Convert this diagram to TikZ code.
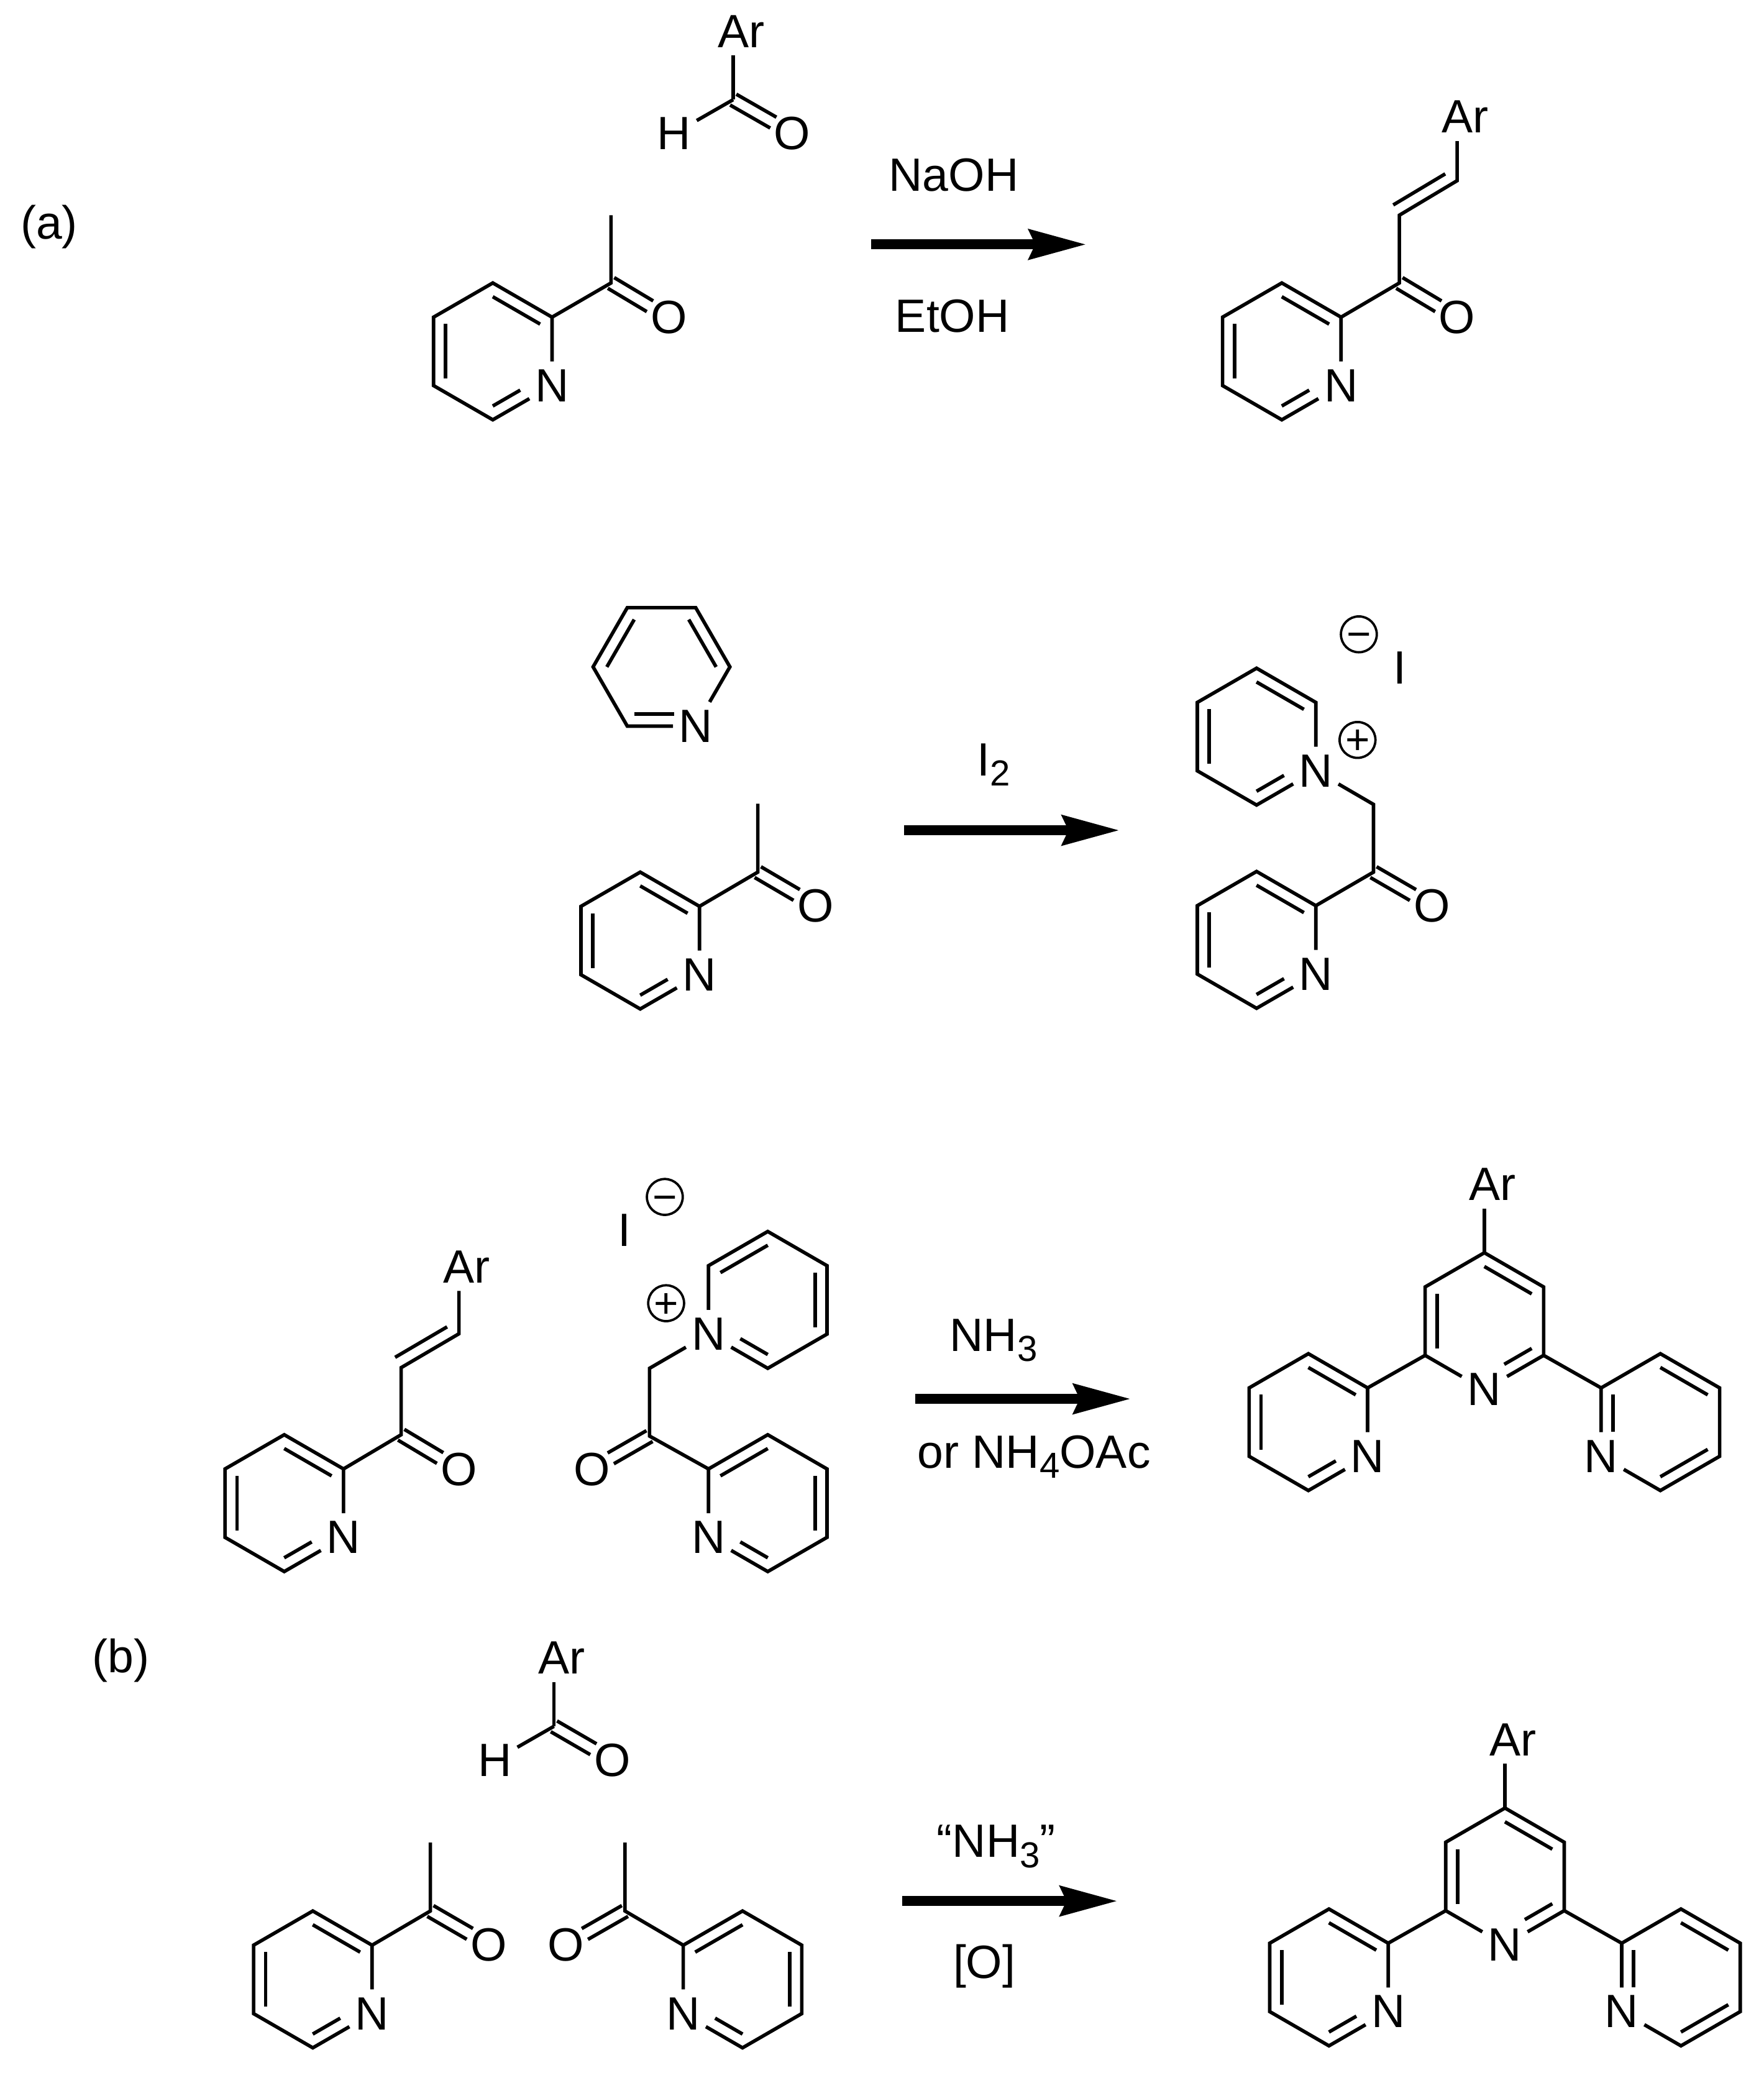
\documentclass[tikz,border=0pt]{standalone}
\usepackage{fontspec}
\setmainfont{Liberation Sans}
\usepackage{tikz}
\usetikzlibrary{arrows.meta,calc}

\tikzset{
    bond/.style={line width=1.5pt, line join=miter},
    rxnarrow/.style={line width=.15cm, -{Stealth[length=.86cm,width=.44cm,inset=.09cm]}},
    atom/.style={inner xsep=.08cm, inner ysep=.115cm, font=\fontsize{20}{24}\selectfont},
    reagent/.style={anchor=base, inner sep=0pt, font=\fontsize{20}{24}\selectfont},
    charge/.style={circle, draw, line width=1pt, inner sep=0pt, minimum size=.54cm, font=\fontsize{18}{20}\selectfont},
}

% subscript in reagent labels
\newcommand{\subidx}[1]{\raisebox{-4.4pt}{\fontsize{15.5}{16}\selectfont #1}}
% sign inside a charge circle, centred on the node
\newcommand{\chgsign}[1]{\raisebox{-.34em}[0pt][0pt]{#1}}
% second line of a double bond, on the left of #1 -> #2
\newcommand{\inbond}[4]{\draw[bond] ($(#1)!#3!(#2)!.18cm!90:(#2)$) -- ($(#1)!#4!(#2)!.18cm!90:(#2)$);}
% C=O, two lines on both sides of the axis
\newcommand{\carbonyl}[2]{%
    \draw[bond, shorten >=.33cm] ($(#1)!.094cm!90:(#2)$) -- ($(#2)!.094cm!-90:(#1)$);
    \draw[bond, shorten >=.33cm] ($(#1)!.094cm!-90:(#2)$) -- ($(#2)!.094cm!90:(#1)$);}
% ring outline: vertex 0 is N, the others follow counter-clockwise
\newcommand{\pyrbase}[3]{%
    \coordinate (#1) at #2;
    \foreach \i in {0,...,5}
        \coordinate (#1-\i) at ($(#1)+({#3+60*\i}:51.5)$);
    \node[atom] (#1-0) at (#1-0) {N};
    \draw[bond] (#1-0) -- (#1-1) -- (#1-2) -- (#1-3) -- (#1-4) -- (#1-5) -- (#1-0);}
\newcommand{\pyridineA}[4][.564]{%
    \pyrbase{#2}{#3}{#4}
    \inbond{#2-1}{#2-2}{.1}{.9}
    \inbond{#2-3}{#2-4}{.1}{.9}
    \inbond{#2-5}{#2-0}{.1}{#1}}
\newcommand{\pyridineB}[3]{%
    \pyrbase{#1}{#2}{#3}
    \inbond{#1-0}{#1-1}{.436}{.9}
    \inbond{#1-2}{#1-3}{.1}{.9}
    \inbond{#1-4}{#1-5}{.1}{.9}}
% terpyridine with Ar on top
\newcommand{\terpy}[2]{%
    \pyridineB{#1c}{#2}{270}
    \pyridineA{#1l}{($(#1c)+(-132.5,-76)$)}{330}
    \pyridineA[.64]{#1r}{($(#1c)+(132.5,-76)$)}{210}
    \draw[bond] (#1c-5) -- (#1l-1);
    \draw[bond] (#1c-1) -- (#1r-5);
    \node[atom] (#1ar) at ($(#1c-3)+(6,51.5)$) {Ar};
    \draw[bond] (#1c-3) -- (#1c-3 |- #1ar.south);}

\begin{document}
\begin{tikzpicture}[x=.02cm, y=.02cm]
    \useasboundingbox (0,0) rectangle (1328,-1568);

    % Scheme labels
    \node[reagent] (laba) at (37,-180) {(a)};
    \node[reagent] (labb) at (91,-1259) {(b)};

    % Arrows
    \foreach \name/\xa/\xb/\y in {arra/656/818/184, arrb/680.5/843/625, arrc/689/851.5/1053, arrd/679/841.5/1431} {
        \coordinate (\name s) at (\xa,-\y);
        \coordinate (\name e) at (\xb,-\y);
        \draw[rxnarrow] (\name s) -- (\name e);
    }

    % Reagents
    \node[reagent] (naoh) at (718,-144) {NaOH};
    \node[reagent] (etoh) at (717,-250) {EtOH};
    \node[reagent] (itwo) at (748,-584) {I\subidx{2}};
    \node[reagent] (nhthree) at (748,-1017) {NH\subidx{3}};
    \node[reagent] (nhfour) at (778.5,-1105) {or NH\subidx{4}OAc};
    \node[reagent] (nhquote) at (750,-1398) {“NH\subidx{3}”};
    \node[reagent] (oxid) at (741,-1489) {[O]};

    % Aldehyde, first step
    \coordinate (cho1) at (552,-75);
    \node[atom] (ar1) at (558,-23.5) {Ar};
    \node[atom] (h1) at (507.5,-100.5) {H};
    \node[atom] (o1) at (596.5,-100.5) {O};
    \draw[bond] (cho1) -- (cho1 |- ar1.south);
    \draw[bond] (cho1) -- (h1);
    \carbonyl{cho1}{o1}

    % Acetylpyridine, first step
    \pyridineA{ra}{(371,-264.5)}{330}
    \coordinate (ca) at (460,-213);
    \coordinate (mea) at (460,-162);
    \node[atom] (oa) at (503.5,-239) {O};
    \draw[bond] (ra-1) -- (ca) -- (mea);
    \carbonyl{ca}{oa}

    % Enone product
    \pyridineA{rp}{(965,-264.5)}{330}
    \coordinate (cp) at (1053.5,-213);
    \coordinate (vp1) at (1053.5,-162);
    \coordinate (vp2) at (1097,-136);
    \node[atom] (op) at (1097,-239) {O};
    \node[atom] (arp) at (1103,-88) {Ar};
    \draw[bond] (rp-1) -- (cp) -- (vp1) -- (vp2) -- (vp2 |- arp.south);
    \carbonyl{cp}{op}
    \inbond{vp1}{vp2}{0}{.9}

    % Pyridine, second step
    \pyridineA[.686]{rq}{(498,-502)}{300}

    % Acetylpyridine, second step
    \pyridineA{rb}{(482,-708)}{330}
    \coordinate (cb) at (570.5,-656.5);
    \coordinate (meb) at (570.5,-605);
    \node[atom] (ob) at (614,-682) {O};
    \draw[bond] (rb-1) -- (cb) -- (meb);
    \carbonyl{cb}{ob}

    % Pyridinium salt
    \pyridineA{rs}{(946,-554.5)}{330}
    \pyridineA{rt}{(946,-707.5)}{330}
    \coordinate (chs) at (1034,-605.5);
    \coordinate (cs) at (1034,-656.5);
    \node[atom] (os) at (1078,-682) {O};
    \node[atom] (is) at (1054,-502.5) {I};
    \node[charge] (plus1) at (1022,-557) {\chgsign{+}};
    \node[charge] (minus1) at (1023,-477.5) {\chgsign{−}};
    \draw[bond] (rs-0) -- (chs) -- (cs) -- (rt-1);
    \carbonyl{cs}{os}

    % Enone, third step
    \pyridineA{ru}{(214,-1131.5)}{330}
    \coordinate (cu) at (302,-1080);
    \coordinate (vu1) at (302,-1029.5);
    \coordinate (vu2) at (345.5,-1004);
    \node[atom] (ou) at (345.5,-1106) {O};
    \node[atom] (aru) at (351.5,-953.5) {Ar};
    \draw[bond] (ru-1) -- (cu) -- (vu1) -- (vu2) -- (vu2 |- aru.south);
    \carbonyl{cu}{ou}
    \inbond{vu1}{vu2}{0}{.9}

    % Pyridinium salt, third step
    \pyridineB{rv}{(578,-978.5)}{210}
    \pyridineB{rw}{(578,-1131.5)}{210}
    \coordinate (chv) at (489,-1030);
    \coordinate (cv) at (489,-1081);
    \node[atom] (ov) at (445.5,-1106) {O};
    \node[atom] (iv) at (470,-926) {I};
    \node[charge] (plus2) at (501.5,-981) {\chgsign{+}};
    \node[charge] (minus2) at (500.5,-901) {\chgsign{−}};
    \draw[bond] (rv-0) -- (chv) -- (cv) -- (rw-5);
    \carbonyl{cv}{ov}

    % Terpyridine products
    \terpy{ta}{(1117.5,-994.5)}
    \terpy{tb}{(1133,-1412.5)}

    % Aldehyde, scheme b
    \coordinate (cho2) at (417,-1299.5);
    \node[atom] (ar2) at (423,-1248) {Ar};
    \node[atom] (h2) at (372.5,-1325) {H};
    \node[atom] (o2) at (461,-1325) {O};
    \draw[bond] (cho2) -- (cho2 |- ar2.south);
    \draw[bond] (cho2) -- (h2);
    \carbonyl{cho2}{o2}

    % Two acetylpyridines, scheme b
    \pyridineA{rx}{(235.5,-1490)}{330}
    \coordinate (cx) at (324,-1438.5);
    \coordinate (mex) at (324,-1387);
    \node[atom] (ox) at (368,-1464) {O};
    \draw[bond] (rx-1) -- (cx) -- (mex);
    \carbonyl{cx}{ox}

    \pyridineB{ry}{(559,-1490)}{210}
    \coordinate (cy) at (470.5,-1438.5);
    \coordinate (mey) at (470.5,-1387);
    \node[atom] (oy) at (426,-1464) {O};
    \draw[bond] (ry-5) -- (cy) -- (mey);
    \carbonyl{cy}{oy}
\end{tikzpicture}
\end{document}
